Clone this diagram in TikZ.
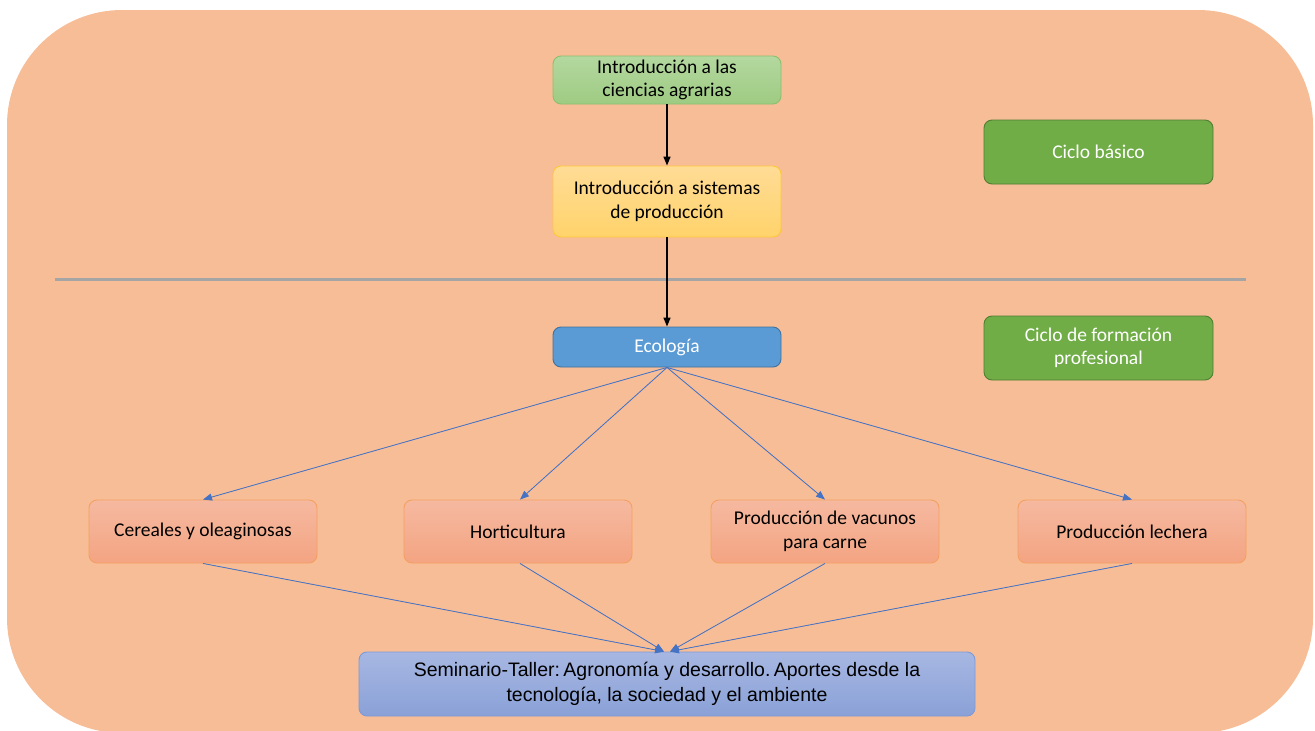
\documentclass[tikz,border=0pt]{standalone}
\usepackage{fontspec}
\setmainfont{Carlito}
\newfontfamily\arialfont{Liberation Sans}
\usetikzlibrary{arrows.meta}
\frenchspacing
\definecolor{bgc}{HTML}{F6BD97}
\definecolor{sepc}{HTML}{A5A5A5}
\definecolor{gtop}{HTML}{B4D8A0}
\definecolor{gbot}{HTML}{9ECB82}
\definecolor{gbrd}{HTML}{8CC06C}
\definecolor{ytop}{HTML}{FFDC96}
\definecolor{ybot}{HTML}{FFD36B}
\definecolor{ybrd}{HTML}{FFC83A}
\definecolor{ecof}{HTML}{5B9BD5}
\definecolor{ecob}{HTML}{41719C}
\definecolor{cicf}{HTML}{70AD47}
\definecolor{cicb}{HTML}{507E32}
\definecolor{otop}{HTML}{F5B9A0}
\definecolor{obot}{HTML}{F4A482}
\definecolor{obrd}{HTML}{F5A060}
\definecolor{stop}{HTML}{A7B7E2}
\definecolor{sbot}{HTML}{8AA1D7}
\definecolor{sbrd}{HTML}{7E9AD6}
\definecolor{arrc}{HTML}{4472C4}
\tikzset{
  basebox/.style={rounded corners=8pt, line width=0.9pt, align=center, inner sep=0pt,
    minimum width=228pt, font=\fontsize{19.5}{23.5}\selectfont},
  greenbox/.style={basebox, top color=gtop, bottom color=gbot, draw=gbrd, minimum height=48pt},
  yellowbox/.style={basebox, top color=ytop, bottom color=ybot, draw=ybrd, minimum height=71pt},
  ecobox/.style={basebox, fill=ecof, draw=ecob, text=white, minimum height=40pt},
  ciclobox/.style={basebox, fill=cicf, draw=cicb, text=white, minimum width=229pt, minimum height=64pt},
  orangebox/.style={basebox, top color=otop, bottom color=obot, draw=obrd, minimum height=63pt},
  seminbox/.style={basebox, top color=stop, bottom color=sbot, draw=sbrd, minimum width=616pt,
    minimum height=64pt, font=\arialfont\fontsize{19.5}{24.5}\selectfont},
  blackarrow/.style={line width=1.5pt, -{Triangle[length=9pt,width=7pt]}},
  bluearrow/.style={draw=arrc, line width=0.8pt, -{Triangle[length=9pt,width=7pt]}, fill=arrc}
}
\begin{document}
\begin{tikzpicture}[x=1pt,y=-1pt]
\useasboundingbox (0,0) rectangle (1315,731);
\fill[bgc, rounded corners=115pt] (7,10) rectangle (1313,733);
\draw[sepc, line width=3pt] (55,279) -- (1246,279);

\node[greenbox] (i1) at (667,80) {Introducción a las\\ciencias agrarias};
\node[yellowbox] (i2) at (667,201.5) {Introducción a sistemas\\de producción};
\node[ecobox] (eco) at (667,347) {Ecología};
\node[ciclobox] (cb) at (1098.5,152) {Ciclo básico};
\node[ciclobox] (cf) at (1098.5,348) {Ciclo de formación\\profesional};

\node[orangebox] (cer) at (203,531.5) {Cereales y oleaginosas};
\node[orangebox] (hor) at (518,531.5) {Horticultura};
\node[orangebox] (vac) at (825,531.5) {Producción de vacunos\\para carne};
\node[orangebox] (lec) at (1132,531.5) {Producción lechera};

\node[seminbox] (sem) at (667,684) {Seminario-Taller:\hspace{-2pt} Agronomía y desarrollo.\hspace{-2pt} Aportes desde la\\tecnología, la sociedad y el ambiente};

\coordinate (semL) at ([xshift=-3pt]sem.north);
\coordinate (semR) at ([xshift=3pt]sem.north);

\draw[blackarrow] (i1.south) -- (i2.north);
\draw[blackarrow] (i2.south) -- (eco.north);

\draw[bluearrow] (eco.south) -- (cer.north);
\draw[bluearrow] (eco.south) -- ([xshift=2pt]hor.north);
\draw[bluearrow] (eco.south) -- (vac.north);
\draw[bluearrow] (eco.south) -- (lec.north);

\draw[bluearrow] (cer.south) -- (semL);
\draw[bluearrow] ([xshift=2pt]hor.south) -- (semL);
\draw[bluearrow] (vac.south) -- (semR);
\draw[bluearrow] (lec.south) -- (semR);
\end{tikzpicture}
\end{document}
